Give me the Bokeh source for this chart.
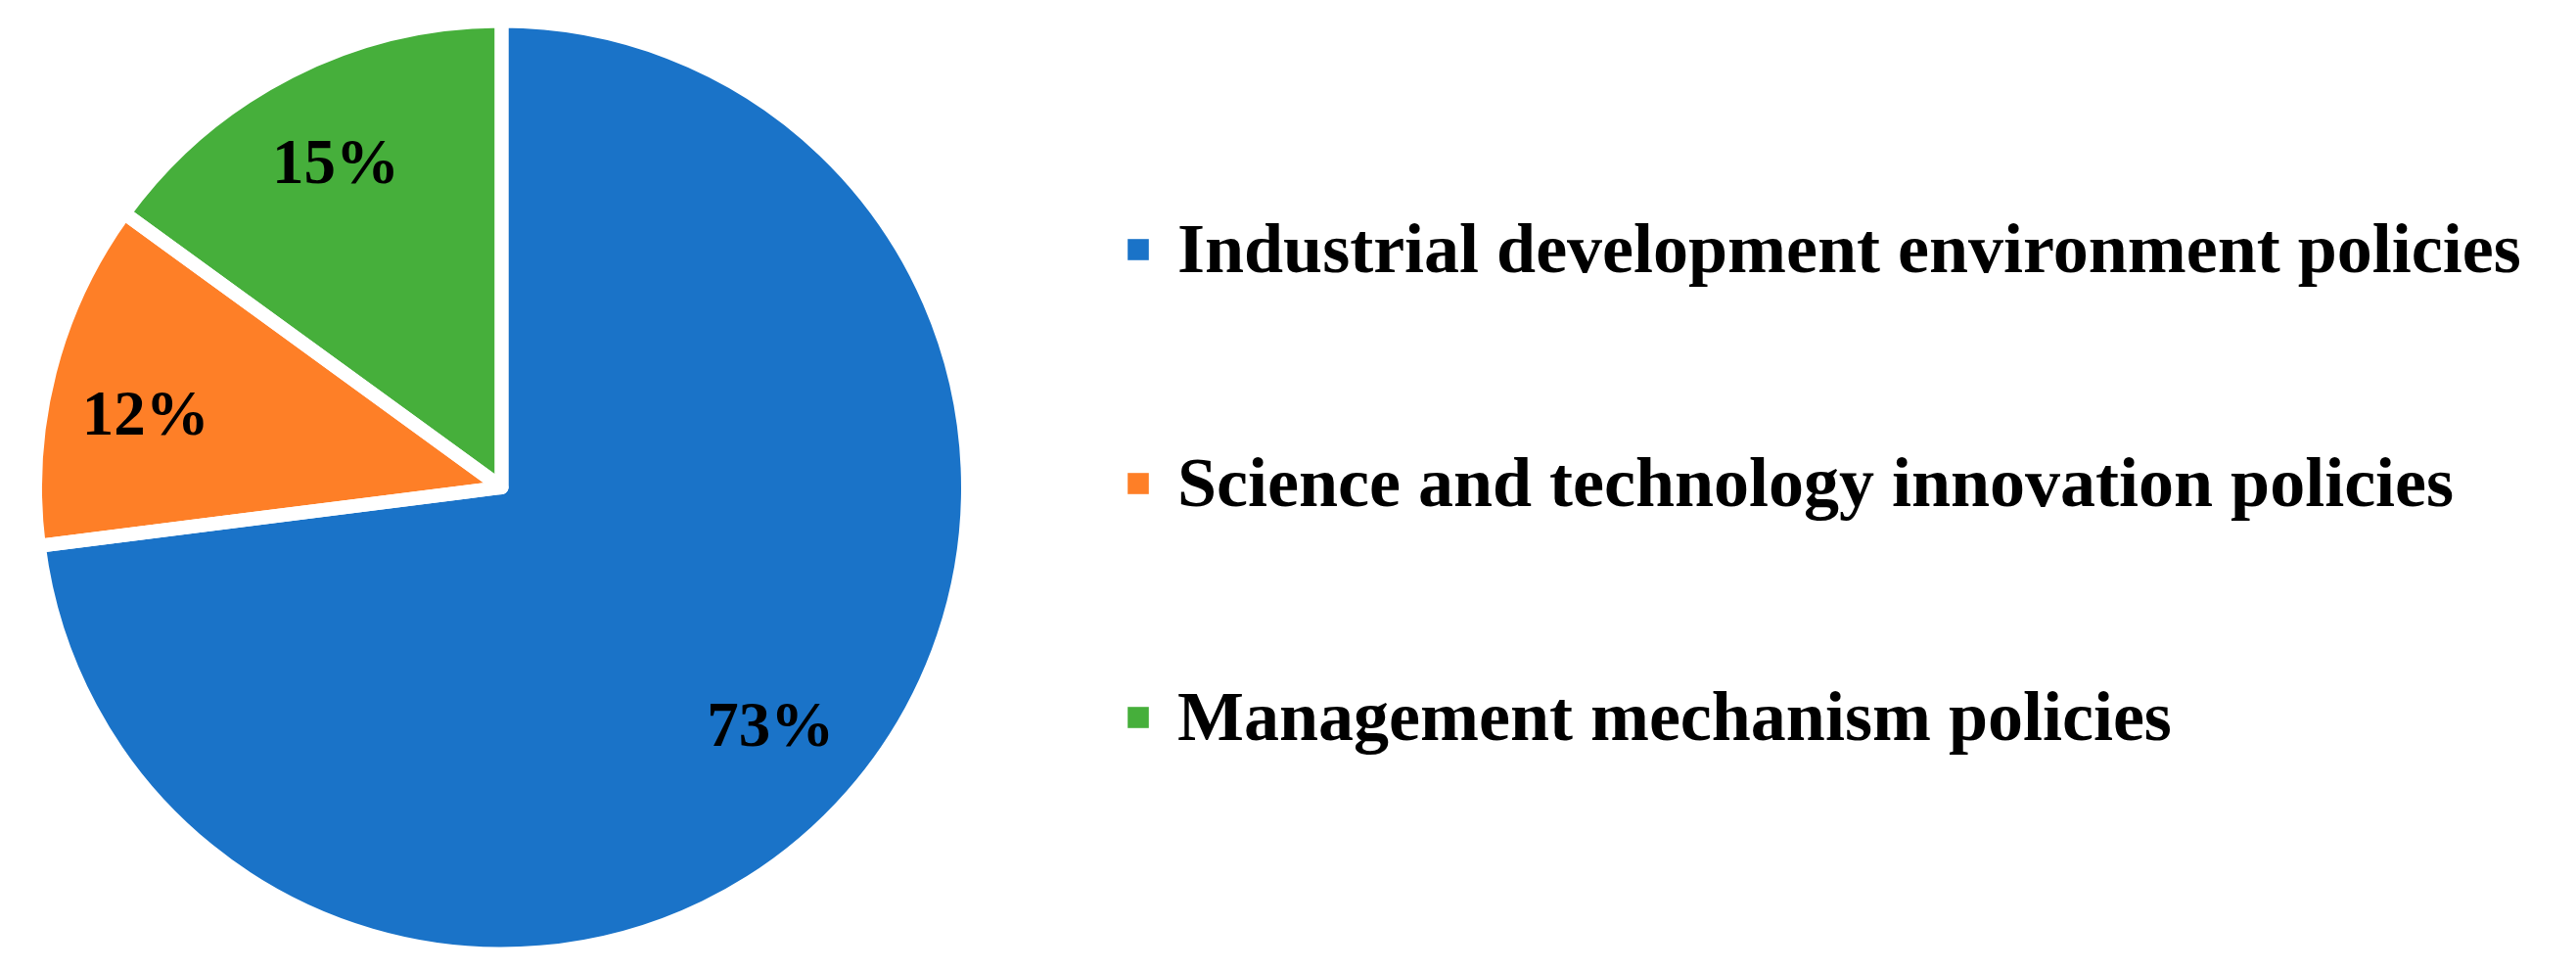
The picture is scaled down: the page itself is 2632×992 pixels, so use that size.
import numpy as np
from bokeh.plotting import figure
from bokeh.models import Range1d, Legend, LegendItem, ColumnDataSource
from bokeh.core.properties import value
from bokeh.embed import file_html
from bokeh.resources import INLINE

categories = ["Industrial development environment policies",
              "Science and technology innovation policies",
              "Management mechanism policies"]
shares = [73, 12, 15]
colors = ["#1A73C8", "#FE7F27", "#46AF3B"]
pct_labels = ["73%", "12%", "15%"]

# label placement tweaks (pixels) – style only
label_radius_frac = [0.78, 0.80, 0.795]
label_nudge_y = [0, -17, 0]

W, H = 2616, 976
p = figure(width=W, height=H, output_backend="svg", toolbar_location=None,
           x_range=Range1d(0, W), y_range=Range1d(0, H), min_border=0)
p.axis.visible = False
p.grid.visible = False
p.outline_line_color = None

cx, cy, r_vis = 512, 478.5, 469.5
gap = 14
r = r_vis + gap / 2
vals = np.array(shares, dtype=float)
frac = vals / vals.sum()
cum = np.concatenate([[0], np.cumsum(frac)])
start_cw = cum[:-1] * 2 * np.pi
end_cw = cum[1:] * 2 * np.pi
start_ang = np.pi / 2 - start_cw
end_ang = np.pi / 2 - end_cw

src = ColumnDataSource(dict(start=start_ang, end=end_ang, color=colors, cat=categories))

renderers = []
for i in range(len(categories)):
    rr = p.wedge(x=cx, y=cy, radius=r, start_angle=end_ang[i], end_angle=start_ang[i],
                 fill_color=colors[i], line_color=None)
    renderers.append(rr)

# white separators between slices
p.wedge(x=cx, y=cy, radius=r, start_angle="end", end_angle="start", source=src,
        fill_alpha=0, line_color="white", line_width=gap, line_join="round")

mid_cw = (start_cw + end_cw) / 2
lr = np.array(label_radius_frac) * r_vis
lx = cx + lr * np.sin(mid_cw)
ly = cy + lr * np.cos(mid_cw) + np.array(label_nudge_y)
p.text(x=lx, y=ly, text=pct_labels, text_align="center", text_baseline="middle",
       text_font=value("Liberation Serif"), text_font_style="bold",
       text_font_size="65px", text_color="black")

items = [LegendItem(label=categories[i], renderers=[renderers[i]]) for i in range(len(categories))]
legend = Legend(items=items, location=(1149, 202), orientation="vertical",
                glyph_width=27, glyph_height=27, label_standoff=27, spacing=156,
                label_text_font="Liberation Serif", label_text_font_style="bold",
                label_text_font_size="72px", label_text_color="black",
                border_line_alpha=0, background_fill_alpha=0, padding=0, margin=0)
p.add_layout(legend, "center")

open("out.html", "w").write(file_html(p, INLINE))
